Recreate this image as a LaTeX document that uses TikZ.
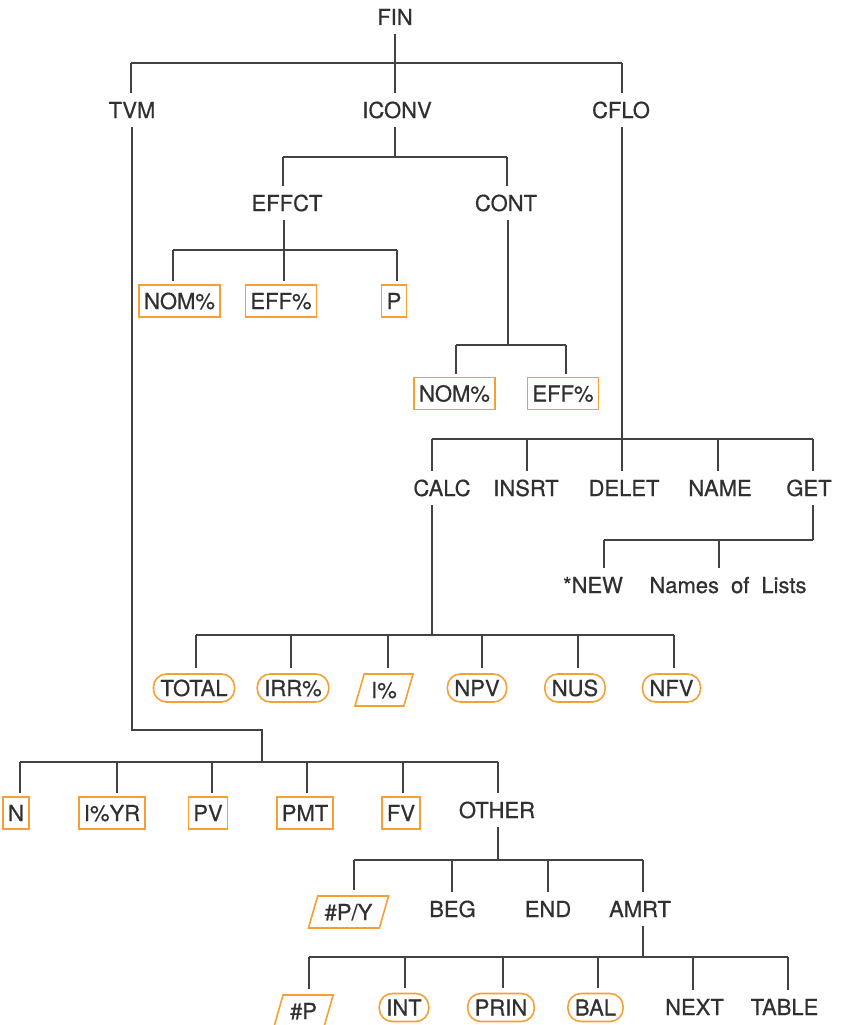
\documentclass[tikz,border=0pt]{standalone}
\usepackage{fontspec}
\setmainfont{TeX Gyre Heros}[FakeBold=0.6]
\usetikzlibrary{shapes.geometric}
\definecolor{ink}{RGB}{48,48,48}
\definecolor{lineC}{RGB}{66,66,66}
\definecolor{orng}{RGB}{246,160,52}
\tikzset{
  every node/.style={font=\fontsize{22}{26}\selectfont, text=ink, text height=16pt, text depth=0pt},
  lbl/.style={inner xsep=0pt, inner ysep=0pt, outer ysep=9pt},
  sqbox/.style={draw=orng, line width=1.6pt, inner xsep=5pt, inner ysep=8pt, outer ysep=4pt},
  pill/.style={draw=orng, line width=1.6pt, rounded corners=13pt, inner xsep=7pt, inner ysep=6pt, outer ysep=6pt},
  para/.style={draw=orng, line width=1.6pt, trapezium, trapezium left angle=74, trapezium right angle=106, inner xsep=7pt, inner ysep=8pt, outer ysep=6pt},
  link/.style={draw=lineC, line width=1.8pt}
}
\begin{document}
\begin{tikzpicture}[x=1pt,y=-1pt]
\useasboundingbox (0,0) rectangle (841,1025);

% ---------- nodes ----------
\node[lbl] (fin) at (395,17) {FIN};
\node[lbl] (tvm) at (132,110) {TVM};
\node[lbl] (iconv) at (397,110) {ICONV};
\node[lbl] (cflo) at (621,110) {CFLO};

\node[lbl] (effct) at (287,203) {EFFCT};
\node[lbl] (cont) at (506,203) {CONT};
\node[sqbox] (nom1) at (179.5,301) {NOM\%};
\node[sqbox] (eff1) at (281,301) {EFF\%};
\node[sqbox] (p1) at (394,301) {P};
\node[sqbox] (nom2) at (454.5,393.5) {NOM\%};
\node[sqbox] (eff2) at (563,393.5) {EFF\%};

\node[lbl] (calc) at (442,488) {CALC};
\node[lbl] (insrt) at (526,488) {INSRT};
\node[lbl] (delet) at (624,488) {DELET};
\node[lbl] (name) at (720,488) {NAME};
\node[lbl] (get) at (809,488) {GET};
\node[lbl] (new) at (593,585) {*NEW};
\node[lbl] (lists) at (728,585) {Names\hspace{12pt}of\hspace{12pt}Lists};

\node[pill] (total) at (194,688) {TOTAL};
\node[pill] (irr) at (293,688) {IRR\%};
\node[para] (ipct) at (384,690) {I\%};
\node[pill] (npv) at (477,688) {NPV};
\node[pill] (nus) at (575,688) {NUS};
\node[pill] (nfv) at (671.5,688) {NFV};

\node[sqbox] (n) at (16,813) {N};
\node[sqbox] (iyr) at (112,813) {I\%YR};
\node[sqbox] (pv) at (208,813) {PV};
\node[sqbox] (pmt) at (305,813) {PMT};
\node[sqbox] (fv) at (401,813) {FV};
\node[lbl] (other) at (497,810) {OTHER};

\node[para] (ppy) at (348.5,912) {\#P/Y};
\node[lbl] (beg) at (452.5,909) {BEG};
\node[lbl] (endn) at (548,909) {END};
\node[lbl] (amrt) at (640,909) {AMRT};

\node[para] (pp) at (303.5,1011) {\#P};
\node[pill] (int) at (404,1007.5) {INT};
\node[pill] (prin) at (501,1007.5) {PRIN};
\node[pill] (bal) at (595.5,1007.5) {BAL};
\node[lbl] (next) at (694.5,1007) {NEXT};
\node[lbl] (table) at (784.5,1007) {TABLE};

% ---------- junctions ----------
\coordinate (jfin) at (395,63);
\coordinate (d-tvm) at (131,63);
\coordinate (d-cflo) at (622,63);

\coordinate (jiconv) at (395,157);
\coordinate (d-effct) at (283,157);
\coordinate (d-cont) at (507,157);

\coordinate (jeffct) at (284,250);
\coordinate (d-nom1) at (173,250);
\coordinate (d-p1) at (397,250);

\coordinate (jcont) at (508,345);
\coordinate (d-nom2) at (456,345);
\coordinate (d-eff2) at (566,345);

\coordinate (jcflo) at (622,439);
\coordinate (d-calc) at (432,439);
\coordinate (d-insrt) at (527,439);
\coordinate (d-name) at (718,439);
\coordinate (d-get) at (813,439);

\coordinate (jget) at (813,540);
\coordinate (d-new) at (604,540);
\coordinate (d-lists) at (719,540);

\coordinate (jcalc) at (432,635);
\coordinate (d-total) at (196,635);
\coordinate (d-irr) at (291,635);
\coordinate (d-ipct) at (388,635);
\coordinate (d-npv) at (482,635);
\coordinate (d-nus) at (578,635);
\coordinate (d-nfv) at (674,635);

\coordinate (jtvmtop) at (132,730);
\coordinate (jtvm) at (262,762);
\coordinate (d-n) at (20,762);
\coordinate (d-iyr) at (117,762);
\coordinate (d-pv) at (212,762);
\coordinate (d-pmt) at (307,762);
\coordinate (d-fv) at (403,762);
\coordinate (d-other) at (498,762);

\coordinate (jother) at (498,860);
\coordinate (d-ppy) at (354,860);
\coordinate (d-beg) at (452,860);
\coordinate (d-end) at (548,860);
\coordinate (d-amrt) at (643,860);

\coordinate (jamrt) at (643,957);
\coordinate (d-pp) at (309,957);
\coordinate (d-int) at (405,957);
\coordinate (d-prin) at (503,957);
\coordinate (d-bal) at (598,957);
\coordinate (d-next) at (693,957);
\coordinate (d-table) at (788,957);

% ---------- connectors ----------
% FIN
\draw[link] (jfin |- fin.south) -- (jfin);
\draw[link] (d-tvm) -- (d-cflo);
\draw[link] (d-tvm) -- (d-tvm |- tvm.north);
\draw[link] (jfin) -- (jfin |- iconv.north);
\draw[link] (d-cflo) -- (d-cflo |- cflo.north);

% ICONV
\draw[link] (jiconv |- iconv.south) -- (jiconv);
\draw[link] (d-effct) -- (d-cont);
\draw[link] (d-effct) -- (d-effct |- effct.north);
\draw[link] (d-cont) -- (d-cont |- cont.north);

% EFFCT
\draw[link] (jeffct |- effct.south) -- (jeffct);
\draw[link] (d-nom1) -- (d-p1);
\draw[link] (d-nom1) -- (d-nom1 |- nom1.north);
\draw[link] (jeffct) -- (jeffct |- eff1.north);
\draw[link] (d-p1) -- (d-p1 |- p1.north);

% CONT
\draw[link] (jcont |- cont.south) -- (jcont);
\draw[link] (d-nom2) -- (d-eff2);
\draw[link] (d-nom2) -- (d-nom2 |- nom2.north);
\draw[link] (d-eff2) -- (d-eff2 |- eff2.north);

% CFLO
\draw[link] (jcflo |- cflo.south) -- (jcflo);
\draw[link] (d-calc) -- (d-get);
\draw[link] (d-calc) -- (d-calc |- calc.north);
\draw[link] (d-insrt) -- (d-insrt |- insrt.north);
\draw[link] (jcflo) -- (jcflo |- delet.north);
\draw[link] (d-name) -- (d-name |- name.north);
\draw[link] (d-get) -- (d-get |- get.north);

% GET
\draw[link] (jget |- get.south) -- (jget);
\draw[link] (d-new) -- (jget);
\draw[link] (d-new) -- (d-new |- new.north);
\draw[link] (d-lists) -- (d-lists |- lists.north);

% CALC
\draw[link] (jcalc |- calc.south) -- (jcalc);
\draw[link] (d-total) -- (d-nfv);
\draw[link] (d-total) -- (d-total |- total.north);
\draw[link] (d-irr) -- (d-irr |- irr.north);
\draw[link] (d-ipct) -- (d-ipct |- ipct.north);
\draw[link] (d-npv) -- (d-npv |- npv.north);
\draw[link] (d-nus) -- (d-nus |- nus.north);
\draw[link] (d-nfv) -- (d-nfv |- nfv.north);

% TVM
\draw[link] (jtvmtop |- tvm.south) -- (jtvmtop) -| (jtvm);
\draw[link] (d-n) -- (d-other);
\draw[link] (d-n) -- (d-n |- n.north);
\draw[link] (d-iyr) -- (d-iyr |- iyr.north);
\draw[link] (d-pv) -- (d-pv |- pv.north);
\draw[link] (d-pmt) -- (d-pmt |- pmt.north);
\draw[link] (d-fv) -- (d-fv |- fv.north);
\draw[link] (d-other) -- (d-other |- other.north);

% OTHER
\draw[link] (jother |- other.south) -- (jother);
\draw[link] (d-ppy) -- (d-amrt);
\draw[link] (d-ppy) -- (d-ppy |- ppy.north);
\draw[link] (d-beg) -- (d-beg |- beg.north);
\draw[link] (d-end) -- (d-end |- endn.north);
\draw[link] (d-amrt) -- (d-amrt |- amrt.north);

% AMRT
\draw[link] (jamrt |- amrt.south) -- (jamrt);
\draw[link] (d-pp) -- (d-table);
\draw[link] (d-pp) -- (d-pp |- pp.north);
\draw[link] (d-int) -- (d-int |- int.north);
\draw[link] (d-prin) -- (d-prin |- prin.north);
\draw[link] (d-bal) -- (d-bal |- bal.north);
\draw[link] (d-next) -- (d-next |- next.north);
\draw[link] (d-table) -- (d-table |- table.north);
\end{tikzpicture}
\end{document}
